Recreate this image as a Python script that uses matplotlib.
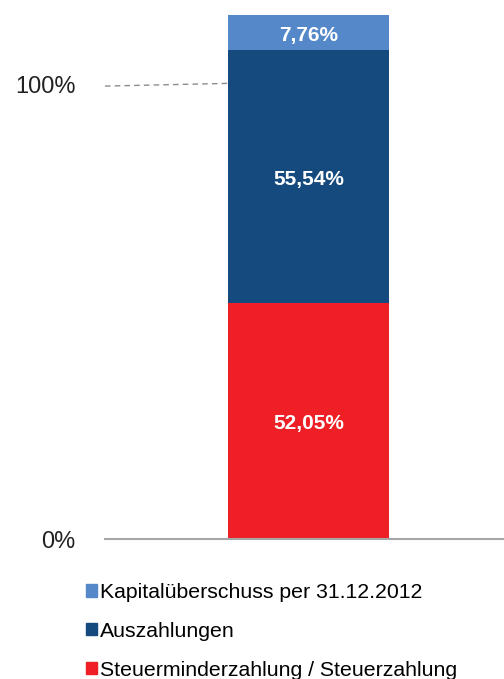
import matplotlib
matplotlib.use("Agg")
import matplotlib.pyplot as plt
from matplotlib.patches import Patch

plt.rcParams['font.family'] = ['Liberation Sans', 'DejaVu Sans']

# segments, bottom to top
labels = ["Steuerminderzahlung / Steuerzahlung", "Auszahlungen", "Kapitalüberschuss per 31.12.2012"]
values = [52.05, 55.54, 7.76]
value_text = ["52,05%", "55,54%", "7,76%"]
colors = ["#EE1F25", "#154A7E", "#5588C8"]
ytick_vals = [0, 100]
ytick_labels = ["0%", "100%"]

W, H = 504, 679
fig = plt.figure(figsize=(W / 100, H / 100), dpi=100)
ax = fig.add_axes([105 / W, (H - 539) / H, (W - 105) / W, 524 / H])

total = sum(values)
bar_x = 0.51
bar_w = 0.4035
bottom = 0
for v, c, t in zip(values, colors, value_text):
    ax.bar(bar_x, v, width=bar_w, bottom=bottom, color=c, edgecolor=c, linewidth=0)
    # label sits a touch below the segment centre, like the original
    ax.text(bar_x, bottom + v / 2 - 0.6, t, ha="center", va="center", color="white",
            fontsize=15, fontweight="bold")
    bottom += v

ax.set_xlim(0, 1)
ax.set_ylim(0, total)

# baseline and dashed 100% guide
ax.axhline(0, color="#a6a6a6", lw=1.5, clip_on=False)
ax.plot([0, bar_x - bar_w / 2], [99.7, 100.3], color="#8c8c8c", lw=1, ls=(0, (4, 3)))

for s in ax.spines.values():
    s.set_visible(False)
ax.set_xticks([])
ax.set_yticks(ytick_vals)
ax.set_yticklabels(ytick_labels, fontsize=17, color="#222222")
ax.tick_params(axis="y", length=0, pad=21)

handles = [Patch(color=c) for c in colors][::-1]
fig.legend(handles, labels[::-1], loc="upper left", bbox_to_anchor=(86 / W, 1 - 583 / H),
           frameon=False, fontsize=15.3, handlelength=0.5, handleheight=0.5,
           handletextpad=0.15, labelspacing=0.93, borderaxespad=0, borderpad=0)

fig.savefig("out.png", dpi=100)
